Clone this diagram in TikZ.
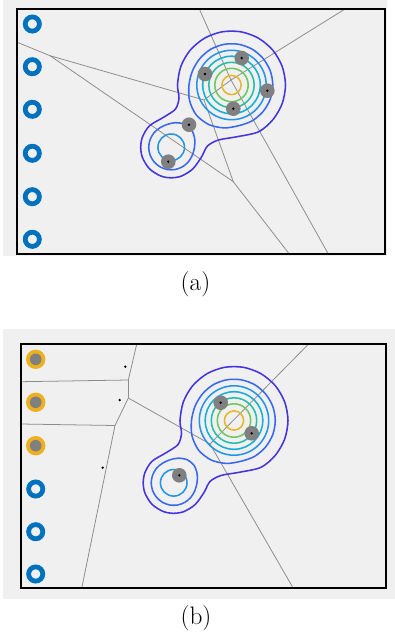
\documentclass[tikz,border=0pt]{standalone}
\usepackage{xcolor}
\usepackage{tikz}

\definecolor{panelgrey}{RGB}{240,240,240}
\definecolor{pointgrey}{RGB}{128,128,128}
\definecolor{edgegrey}{RGB}{140,140,140}
\definecolor{ringblue}{RGB}{0,114,189}
\definecolor{ringorange}{RGB}{237,177,32}
\definecolor{levA}{RGB}{68,52,222}
\definecolor{levB}{RGB}{56,104,240}
\definecolor{levC}{RGB}{36,148,232}
\definecolor{levD}{RGB}{20,176,212}
\definecolor{levE}{RGB}{36,190,170}
\definecolor{levF}{RGB}{110,200,96}
\definecolor{levG}{RGB}{228,184,40}

\newcommand{\densitylevels}{%
\draw[level, levG] (0,0) circle (9.6);
\draw[level, levF] (0,0) circle (16.7);
\draw[level, levE] (0,0) circle (22.7);
\draw[level, levD] (0,0) circle (28.8);
\draw[level, levC] (0,0) circle (34.7);
\draw[level, levB] plot[smooth cycle] coordinates {(41.3,0) (38.8,14.1) (31.6,26.5) (20.7,35.8) (7.2,40.7) (-7.6,42.9) (-22.8,39.5) (-35.4,29.7) (-42,15.3) (-42.5,0) (-39,-14.2) (-31.6,-26.5) (-20.7,-35.8) (-7.2,-40.7) (7.2,-40.7) (20.7,-35.8) (31.6,-26.5) (38.8,-14.1)};
\begin{scope}[shift={(-60.3,62.3)}]
\draw[level, levC] (0,0) circle (13.3);
\draw[level, levB] plot[smooth cycle] coordinates {(23.3,0) (23.5,-8.6) (20.5,-17.2) (13.4,-23.1) (4.3,-24.6) (-4,-22.9) (-11.3,-19.5) (-17.2,-14.5) (-21.1,-7.7) (-22.5,0) (-21.1,7.7) (-17.2,14.5) (-11.25,19.5) (-3.9,22.2) (3.9,22.2) (11.25,19.5) (17.2,14.5) (21.2,7.7)};
\end{scope}
\draw[level, levA] plot[smooth cycle] coordinates {(-54,0) (-50.7,-18.5) (-41.4,-34.7) (-27,-46.8) (-9.4,-53.2) (9.4,-53.2) (27,-46.8) (41.4,-34.7) (50.7,-18.5) (54,0) (50.7,18.5) (41.4,34.7) (27,46.8) (5.7,51.7) (-13,55) (-24,61) (-30,72) (-38.7,83.9) (-49.9,91) (-60.3,92.8) (-70.7,91) (-81.9,83.9) (-89,72.7) (-90.8,62.3) (-89,51.9) (-81.9,40.7) (-67.5,32) (-56,24) (-52.5,13)};
}

\begin{document}
\begin{tikzpicture}[x=0.05cm, y=0.05cm, yscale=-1,
  level/.style={line width=2.2pt},
  vedge/.style={draw=edgegrey, line width=1.1pt},
  frame/.style={draw=black, line width=2.6pt},
  hollow/.style={draw=ringblue, line width=6.8pt},
  label/.style={font=\fontsize{36}{40}\selectfont}]
\useasboundingbox (0,0) rectangle (395,640);
\fill[panelgrey] (3,0) rectangle (387,256);
\fill[panelgrey] (3,329) rectangle (395,599);

\coordinate (a-l0) at (17.3,42.3);
\coordinate (a-v0) at (50,55.7);
\coordinate (a-v1) at (231,80);
\coordinate (a-v2) at (204,100);
\coordinate (a-v3) at (233.3,181.7);
\coordinate (a-t1) at (199.3,9);
\coordinate (a-t2) at (345,9);
\coordinate (a-b1) at (289.3,254);
\coordinate (a-b2) at (328.3,254);
\draw[vedge] (a-l0) -- (a-v0);
\draw[vedge] (a-v0) -- (a-v2);
\draw[vedge] (a-v0) -- (a-v3);
\draw[vedge] (a-v2) -- (a-v1);
\draw[vedge] (a-v2) -- (a-v3);
\draw[vedge] (a-v1) -- (a-t1);
\draw[vedge] (a-v1) -- (a-t2);
\draw[vedge] (a-v1) -- (a-b2);
\draw[vedge] (a-v3) -- (a-b1);

\coordinate (b-p1) at (136.7,344.3);
\coordinate (b-p2) at (20.7,381.7);
\coordinate (b-p3) at (20.7,424);
\coordinate (b-p4) at (81.7,588.3);
\coordinate (b-p5) at (308.3,344.3);
\coordinate (b-p6) at (293.3,588.3);
\coordinate (b-w1) at (128.3,380);
\coordinate (b-w2) at (128.3,398);
\coordinate (b-w3) at (115,425.5);
\coordinate (b-w4) at (210,444);
\draw[vedge] (b-p1) -- (b-w1);
\draw[vedge] (b-p2) -- (b-w1);
\draw[vedge] (b-w1) -- (b-w2);
\draw[vedge] (b-w2) -- (b-w3);
\draw[vedge] (b-w2) -- (b-w4);
\draw[vedge] (b-p3) -- (b-w3);
\draw[vedge] (b-w3) -- (b-p4);
\draw[vedge] (b-p5) -- (b-w4);
\draw[vedge] (b-w4) -- (b-p6);

\begin{scope}[shift={(231.5,85)}]
\densitylevels
\end{scope}
\begin{scope}[shift={(234,420.5)}]
\densitylevels
\end{scope}

\fill[pointgrey] (241.7,58)    circle (7.3);
\fill[pointgrey] (205,74)      circle (7.3);
\fill[pointgrey] (267.3,90.7)  circle (7.3);
\fill[pointgrey] (233.3,108.7) circle (7.3);
\fill[pointgrey] (189,124.7)   circle (7.3);
\fill[pointgrey] (168.3,161.7) circle (7.3);
\fill[black] (241.7,58)    circle (1.3);
\fill[black] (205,74)      circle (1.3);
\fill[black] (267.3,90.7)  circle (1.3);
\fill[black] (233.3,108.7) circle (1.3);
\fill[black] (189,124.7)   circle (1.3);
\fill[black] (168.3,161.7) circle (1.3);

\fill[pointgrey] (220.7,402.7) circle (7.3);
\fill[pointgrey] (251.7,433.3) circle (7.3);
\fill[pointgrey] (179.3,475.3) circle (7.3);
\fill[black] (220.7,402.7) circle (1.3);
\fill[black] (251.7,433.3) circle (1.3);
\fill[black] (179.3,475.3) circle (1.3);
\fill[black] (125.3,366.7) circle (1.3);
\fill[black] (119.7,400)   circle (1.3);
\fill[black] (102.7,467.7) circle (1.3);

\draw[hollow] (32.3,24)    circle (7.1);
\draw[hollow] (32.3,66.7)  circle (7.1);
\draw[hollow] (32.3,109.3) circle (7.1);
\draw[hollow] (32.3,153.3) circle (7.1);
\draw[hollow] (32.3,196.7) circle (7.1);
\draw[hollow] (32.3,239.3) circle (7.1);

\fill[ringorange] (35.7,359.3) circle (9.7);
\fill[ringorange] (35.7,402.3) circle (9.7);
\fill[ringorange] (35.7,445.7) circle (9.7);
\fill[pointgrey]  (35.7,359.3) circle (5.8);
\fill[pointgrey]  (35.7,402.3) circle (5.8);
\fill[pointgrey]  (35.7,445.7) circle (5.8);
\draw[hollow] (35.7,489)   circle (7.1);
\draw[hollow] (35.7,531.7) circle (7.1);
\draw[hollow] (35.7,574)   circle (7.1);

\draw[frame] (17.3,9) rectangle (385,254);
\draw[frame] (20.7,344.3) rectangle (386,588.3);

\node[label] (cap-a) at (195.5,284) {(a)};
\node[label] (cap-b) at (196,618) {(b)};
\end{tikzpicture}
\end{document}
